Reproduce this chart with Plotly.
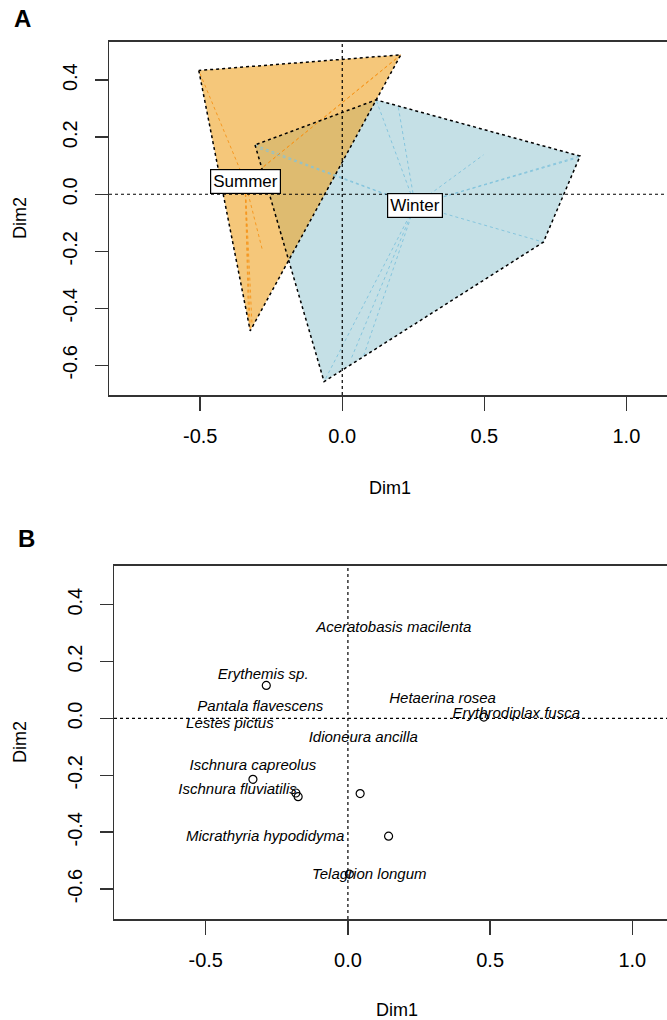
import plotly.graph_objects as go

# ---------------- Data ----------------
# Panel A: site scores grouped by season (Dim1, Dim2)
summer_x = [-0.505, 0.206, 0.190, -0.324, -0.318, -0.330, -0.280]
summer_y = [0.434, 0.489, 0.475, -0.479, -0.450, -0.430, -0.200]
summer_centroid = (-0.342, 0.044)

winter_x = [0.119, 0.197, 0.837, 0.820, 0.497, 0.708, -0.307, -0.290, -0.064, 0.074, 0.030]
winter_y = [0.331, 0.307, 0.134, 0.125, 0.138, -0.168, 0.173, 0.160, -0.657, -0.570, -0.580]
winter_centroid = (0.256, -0.038)

# Panel B: species scores
species_pts_x = [-0.287, 0.478, -0.334, -0.183, -0.175, 0.043, 0.143, 0.005]
species_pts_y = [0.116, 0.005, -0.214, -0.262, -0.275, -0.264, -0.414, -0.547]

species_names = ["Aceratobasis macilenta", "Erythemis sp.", "Hetaerina rosea",
                 "Pantala flavescens", "Erythrodiplax fusca", "Lestes pictus",
                 "Idioneura ancilla", "Ischnura capreolus", "Ischnura fluviatilis",
                 "Micrathyria hypodidyma", "Telagrion longum"]
species_lab_x = [0.161, -0.298, 0.333, -0.308, 0.592, -0.415, 0.054, -0.334, -0.388, -0.291, 0.075]
species_lab_y = [0.318, 0.151, 0.067, 0.040, 0.014, -0.020, -0.068, -0.167, -0.254, -0.419, -0.551]

x_ticks = [-0.5, 0.0, 0.5, 1.0]
x_tick_text = ["-0.5", "0.0", "0.5", "1.0"]
y_ticks = [-0.6, -0.4, -0.2, 0.0, 0.2, 0.4]
y_tick_text = ["-0.6", "-0.4", "-0.2", "0.0", "0.2", "0.4"]


def convex_hull(xs, ys):
    pts = sorted(set(zip(xs, ys)))
    def cross(o, a, b):
        return (a[0]-o[0])*(b[1]-o[1]) - (a[1]-o[1])*(b[0]-o[0])
    lower, upper = [], []
    for p in pts:
        while len(lower) >= 2 and cross(lower[-2], lower[-1], p) <= 0:
            lower.pop()
        lower.append(p)
    for p in reversed(pts):
        while len(upper) >= 2 and cross(upper[-2], upper[-1], p) <= 0:
            upper.pop()
        upper.append(p)
    hull = lower[:-1] + upper[:-1]
    hull.append(hull[0])
    return [p[0] for p in hull], [p[1] for p in hull]


FONT = "Liberation Sans, Arial, sans-serif"
fig = go.Figure()

groups = [
    ("Winter", winter_x, winter_y, winter_centroid, "rgba(139,193,205,0.5)", "rgba(130,195,220,0.95)"),
    ("Summer", summer_x, summer_y, summer_centroid, "rgba(238,162,33,0.6)", "rgba(245,150,30,0.95)"),
]

# fills
for name, xs, ys, c, fill, lc in groups:
    hx, hy = convex_hull(xs, ys)
    fig.add_trace(go.Scatter(x=hx, y=hy, mode="lines", fill="toself", fillcolor=fill,
                             line=dict(width=0), hoverinfo="skip", showlegend=False,
                             xaxis="x", yaxis="y"))
# spider lines
for name, xs, ys, c, fill, lc in groups:
    sx, sy = [], []
    for x, y in zip(xs, ys):
        sx += [c[0], x, None]
        sy += [c[1], y, None]
    fig.add_trace(go.Scatter(x=sx, y=sy, mode="lines", line=dict(color=lc, width=1, dash="dot"),
                             hoverinfo="skip", showlegend=False, xaxis="x", yaxis="y"))
# hull outlines
for name, xs, ys, c, fill, lc in groups:
    hx, hy = convex_hull(xs, ys)
    fig.add_trace(go.Scatter(x=hx, y=hy, mode="lines", line=dict(color="black", width=1.5, dash="dot"),
                             hoverinfo="skip", showlegend=False, xaxis="x", yaxis="y"))

# Panel B points
fig.add_trace(go.Scatter(x=species_pts_x, y=species_pts_y, mode="markers",
                         marker=dict(symbol="circle-open", size=8, color="black", line=dict(width=1.2)),
                         hoverinfo="skip", showlegend=False, xaxis="x2", yaxis="y2"))
fig.add_trace(go.Scatter(x=species_lab_x, y=species_lab_y, mode="text", text=species_names,
                         textfont=dict(family=FONT, size=15, color="black", style="italic"),
                         textposition="middle center", hoverinfo="skip", showlegend=False,
                         xaxis="x2", yaxis="y2"))

annotations = []
for name, xs, ys, c, fill, lc in groups:
    annotations.append(dict(x=c[0], y=c[1], xref="x", yref="y", text=name, showarrow=False,
                            xanchor="center", yanchor="middle",
                            font=dict(family=FONT, size=17, color="black"),
                            bgcolor="white", bordercolor="black", borderwidth=1.2, borderpad=2))

W, H = 667, 1020
def px(v): return v / W
def py(v): return 1 - v / H

def paper_text(cx, cy, text, size, angle=0):
    return dict(x=px(cx), y=py(cy), xref="paper", yref="paper", text=text, textangle=angle,
                xanchor="center", yanchor="middle", showarrow=False,
                font=dict(family=FONT, size=size, color="black"))

annotations.append(paper_text(22, 18, "<b>A</b>", 24))
annotations.append(paper_text(27, 538, "<b>B</b>", 24))
annotations.append(paper_text(390, 488, "Dim1", 18))
annotations.append(paper_text(397, 1010, "Dim1", 18))
annotations.append(paper_text(20, 218, "Dim2", 18, -90))
annotations.append(paper_text(20, 742, "Dim2", 18, -90))

shapes = []
for xa, ya in [("x", "y"), ("x2", "y2")]:
    shapes.append(dict(type="line", xref=xa, yref=ya + " domain", x0=0, x1=0, y0=0, y1=1,
                       line=dict(color="black", width=1.2, dash="dot"), layer="above"))
    shapes.append(dict(type="line", xref=xa + " domain", yref=ya, x0=0, x1=1, y0=0, y1=0,
                       line=dict(color="black", width=1.2, dash="dot"), layer="above"))

xaxis_common = dict(tickvals=x_ticks, ticktext=x_tick_text, ticks="outside", ticklen=14,
                    tickwidth=1.5, tickcolor="#333", showline=True, mirror=True, linecolor="#333",
                    linewidth=1.5, showgrid=False, zeroline=False, ticklabelstandoff=8,
                    tickfont=dict(family=FONT, size=20, color="black"))
yaxis_common = dict(tickvals=y_ticks, ticktext=y_tick_text, ticks="outside", ticklen=13,
                    tickwidth=1.5, tickcolor="#333", showline=True, mirror=False, linecolor="#333",
                    linewidth=1.5, showgrid=False, zeroline=False, tickangle=-90, ticklabelstandoff=10,
                    tickfont=dict(family=FONT, size=20, color="black"))

fig.update_layout(
    width=W, height=H, margin=dict(l=0, r=0, t=0, b=0),
    paper_bgcolor="white", plot_bgcolor="white",
    xaxis=dict(domain=[px(109), 1], range=[-0.821, 1.143], anchor="y", **xaxis_common),
    yaxis=dict(domain=[py(395), py(41.7)], range=[-0.704, 0.535], anchor="x", **yaxis_common),
    xaxis2=dict(domain=[px(114), 1], range=[-0.8225, 1.122], anchor="y2", **xaxis_common),
    yaxis2=dict(domain=[py(919), py(565.7)], range=[-0.705, 0.537], anchor="x2", **yaxis_common),
    annotations=annotations, shapes=shapes,
)

fig.write_html("out.html", config={"displayModeBar": False, "staticPlot": True},
               post_script="document.body.style.margin='0';document.body.style.overflow='hidden';")
